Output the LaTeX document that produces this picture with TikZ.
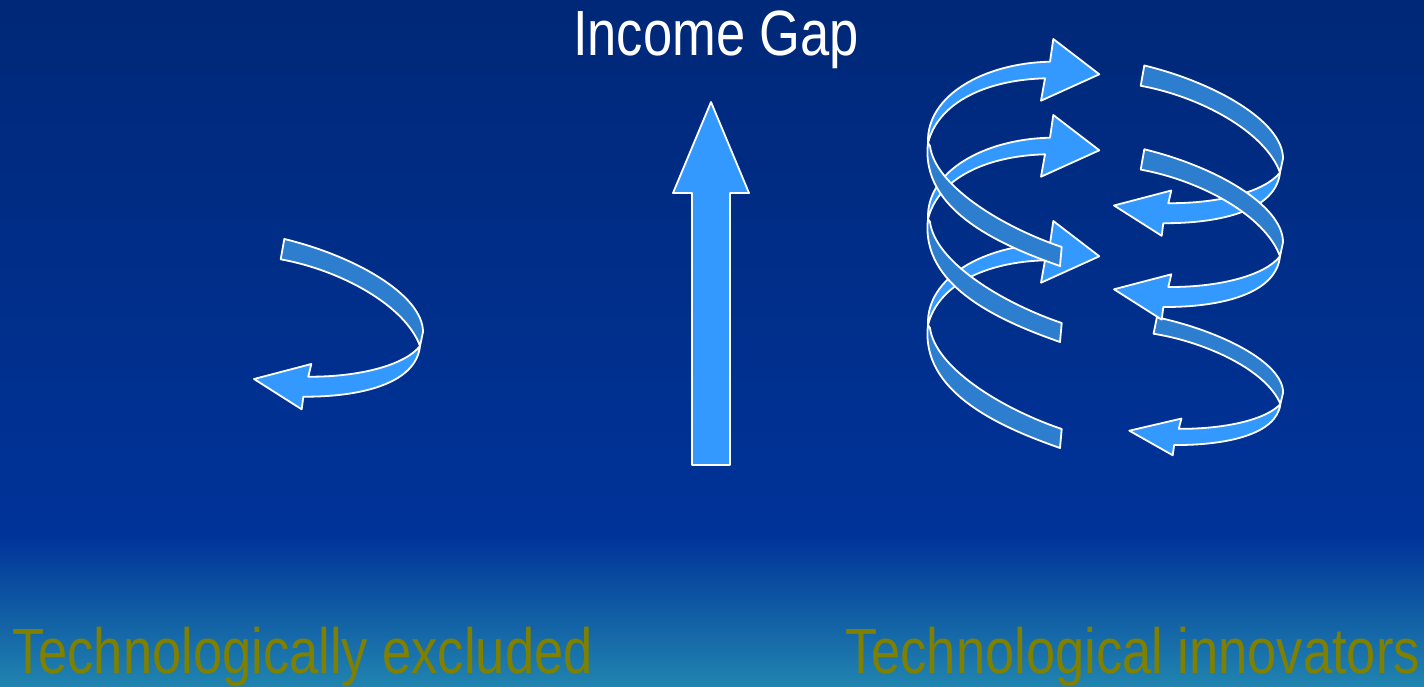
\documentclass[tikz,border=0pt]{standalone}
\usepackage{fontspec}
\newfontfamily\narrowsans{Liberation Sans}[FakeStretch=0.82]
\definecolor{bgtop}{RGB}{0,40,120}
\definecolor{bgmid}{RGB}{0,51,153}
\definecolor{bgbot}{RGB}{32,132,175}
\definecolor{ribbonlite}{RGB}{51,153,255}
\definecolor{ribbondark}{RGB}{46,126,208}
\definecolor{labelolive}{RGB}{128,128,0}
\tikzset{
  liteface/.style={fill=ribbonlite, draw=white, line width=1.8pt, line join=round},
  darkface/.style={fill=ribbondark, draw=white, line width=1.8pt, line join=round},
  bigtext/.style={inner sep=0pt, font=\narrowsans\fontsize{64}{70}\selectfont},
}
% ribbon curling to the right, arrow pointing left (reference coordinates of the left shape)
\newcommand\RibbonCurlRight{%
  \path[darkface] (284.3,239) .. controls (355,256) and (423,295) .. (423,332)
     -- (420,346) .. controls (405,305) and (340,270) .. (280.7,259.3) -- cycle;
  \path[liteface] (420,346) .. controls (416,384) and (360,397) .. (303.3,396.7)
     -- (301.7,409.3) -- (254,379) -- (311.3,364) -- (308.3,376.7)
     .. controls (360,377) and (405,365) .. (420,346) -- cycle;
}
% ribbon curling to the left, arrow pointing right (coordinates of the top one)
\newcommand\RibbonCurlLeft{%
  \path[darkface] (928,143) .. controls (920,210) and (1000,245) .. (1060,266)
     -- (1061.7,247) .. controls (1000,226) and (935,185) .. (930,146) -- cycle;
  \path[liteface] (928,143) .. controls (926,95) and (985,63) .. (1050,61.7)
     -- (1053.3,39) -- (1099.3,74.3) -- (1041,100.7) -- (1045,78.3)
     .. controls (985,80) and (938,103) .. (928,143) -- cycle;
}
\begin{document}
\begin{tikzpicture}[x=1pt, y=-1pt]
\useasboundingbox (0,0) rectangle (1424,686);
% background
\fill[top color=bgtop, bottom color=bgmid] (0,0) rectangle (1424,536);
\fill[top color=bgmid, bottom color=bgbot] (0,535) rectangle (1424,686);

% central up arrow
\path[liteface] (711,102) -- (749,193) -- (730,193) -- (730,465) -- (692,465)
   -- (692,193) -- (673,193) -- cycle;

% left group
\RibbonCurlRight

% right group, right column
\begin{scope}[shift={(1129.3,430.7)}, xscale=0.91, yscale=0.81, shift={(-254,-379)}]
  \RibbonCurlRight
\end{scope}
\begin{scope}[shift={(860,-173.5)}]
  \RibbonCurlRight
\end{scope}
\begin{scope}[shift={(860,-89.7)}]
  \RibbonCurlRight
\end{scope}

% right group, left column
\begin{scope}[shift={(0,182)}]
  \RibbonCurlLeft
\end{scope}
\begin{scope}[shift={(0,76)}]
  \RibbonCurlLeft
\end{scope}
\RibbonCurlLeft

% texts
\node[bigtext, text=white, anchor=base west] (gap) at (573,55) {Income Gap};
\node[bigtext, text=labelolive, anchor=base west] (excl) at (12,673) {Technologically excluded};
\node[bigtext, text=labelolive, anchor=base west] (innov) at (845,673) {Technological innovators};
\end{tikzpicture}
\end{document}
